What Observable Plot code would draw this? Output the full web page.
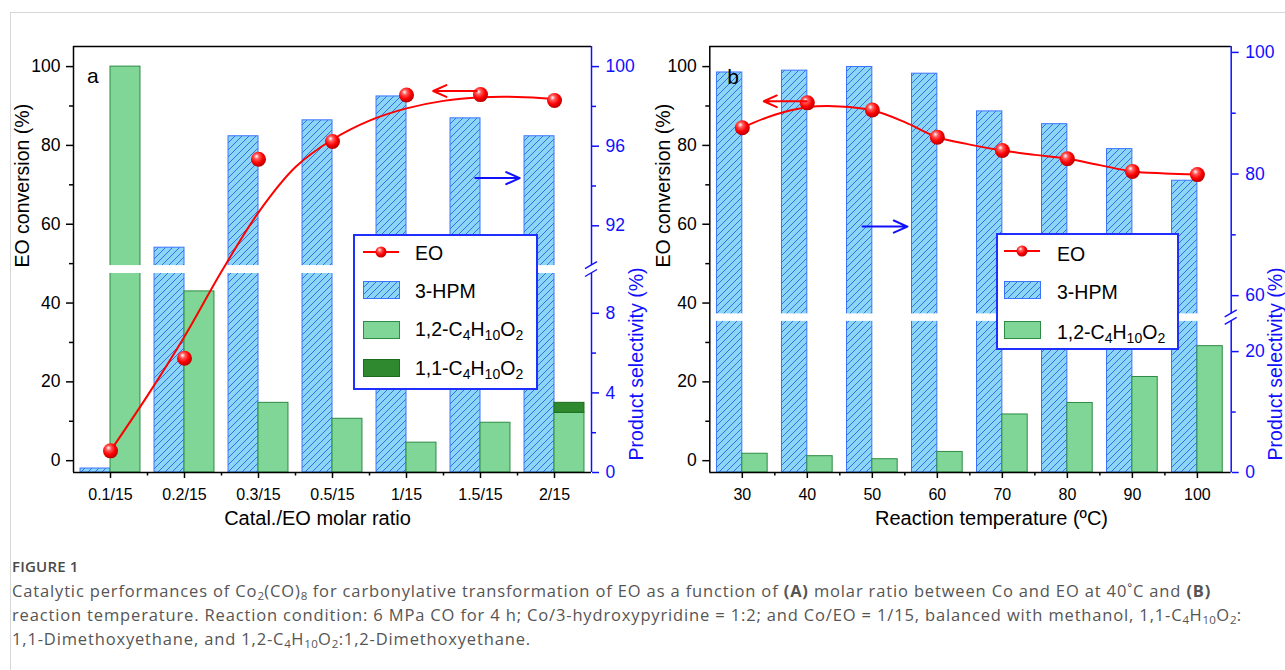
<!DOCTYPE html>
<html>
<head>
<meta charset="utf-8">
<script src="https://cdn.jsdelivr.net/npm/d3@7"></script>
<script src="https://cdn.jsdelivr.net/npm/@observablehq/plot@0.6"></script>
<style>
  html, body { margin: 0; padding: 0; background: #fff; }
  body { width: 1285px; height: 670px; overflow: hidden; position: relative; font-family: "Liberation Sans", Arial, sans-serif; }
  #card { position: absolute; left: 10px; top: 12px; width: 1300px; height: 700px; border-left: 1px solid #d6d6d6; border-top: 1px solid #d6d6d6; }
  .panel { position: absolute; top: 0; }
  .legend { position: absolute; box-sizing: border-box; border: 2px solid #1f2fff; background: #fff; }
  .legend .sw { position: absolute; }
  .legend .lt { position: absolute; font-size: 19.5px; line-height: 24px; white-space: nowrap; color: #000; }
  .legend sub { font-size: 0.72em; vertical-align: -0.28em; line-height: 0; }
  #caption { position: absolute; left: 12px; top: 554px; width: 1270px; font-family: "Open Sans", "Noto Sans", sans-serif; color: #555; white-space: nowrap; }
  #caption .fig { font-size: 15px; font-weight: 600; color: #4a4a4a; letter-spacing: 0.2px; line-height: 24px; }
  #caption .txt { font-size: 16.5px; line-height: 24px; letter-spacing: 0.85px; margin-top: 1px; }
  #caption sub { font-size: 0.7em; vertical-align: -0.25em; line-height: 0; letter-spacing: 0.3px; }
</style>
</head>
<body>
<div id="card"></div>
<div id="pa" class="panel" style="left:0px"></div>
<div id="pb" class="panel" style="left:645px"></div>

<div class="legend" style="left:353px;top:234px;width:185px;height:156px">
  <svg class="sw" style="left:8px;top:6px" width="38" height="20"><line x1="0" y1="10" x2="36" y2="10" stroke="#ff0000" stroke-width="2"/><circle cx="18" cy="10" r="5.5" fill="url(#ballL)"/></svg>
  <div class="lt" style="left:60px;top:5px">EO</div>
  <svg class="sw" style="left:8px;top:45px" width="38" height="19"><rect x="0.5" y="0.5" width="36" height="17" fill="url(#hatchL)" stroke="#3b73ff"/></svg>
  <div class="lt" style="left:60px;top:43px">3-HPM</div>
  <svg class="sw" style="left:8px;top:85px" width="38" height="19"><rect x="0.5" y="0.5" width="36" height="17" fill="#7fd696" stroke="#2e8b45"/></svg>
  <div class="lt" style="left:60px;top:81px">1,2-C<sub>4</sub>H<sub>10</sub>O<sub>2</sub></div>
  <svg class="sw" style="left:8px;top:123px" width="38" height="19"><rect x="0.5" y="0.5" width="36" height="17" fill="#2f8a2f" stroke="#1d6b1d"/></svg>
  <div class="lt" style="left:60px;top:120px">1,1-C<sub>4</sub>H<sub>10</sub>O<sub>2</sub></div>
</div>

<div class="legend" style="left:996px;top:233px;width:183px;height:117px">
  <svg class="sw" style="left:6px;top:6px" width="38" height="20"><line x1="0" y1="10" x2="36" y2="10" stroke="#ff0000" stroke-width="2"/><circle cx="18" cy="10" r="5.5" fill="url(#ballL)"/></svg>
  <div class="lt" style="left:59px;top:7px">EO</div>
  <svg class="sw" style="left:6px;top:46px" width="38" height="19"><rect x="0.5" y="0.5" width="36" height="17" fill="url(#hatchL)" stroke="#3b73ff"/></svg>
  <div class="lt" style="left:59px;top:45px">3-HPM</div>
  <svg class="sw" style="left:6px;top:86px" width="38" height="19"><rect x="0.5" y="0.5" width="36" height="17" fill="#7fd696" stroke="#2e8b45"/></svg>
  <div class="lt" style="left:59px;top:85px">1,2-C<sub>4</sub>H<sub>10</sub>O<sub>2</sub></div>
</div>

<svg width="0" height="0" style="position:absolute">
  <defs>
    <pattern id="hatchL" patternUnits="userSpaceOnUse" width="7" height="7">
      <rect width="7" height="7" fill="#8bd5f6"/>
      <path d="M-1,1 l2,-2 M0,7 l7,-7 M6,8 l2,-2" stroke="#2d62e6" stroke-width="0.9"/>
    </pattern>
    <radialGradient id="ballL" cx="0.42" cy="0.38" r="0.62" fx="0.36" fy="0.3">
      <stop offset="0" stop-color="#ffffff"/>
      <stop offset="0.28" stop-color="#ff5a5a"/>
      <stop offset="0.65" stop-color="#ff0000"/>
      <stop offset="1" stop-color="#b80000"/>
    </radialGradient>
  </defs>
</svg>

<div id="caption">
  <div class="fig">FIGURE 1</div>
  <div class="txt">Catalytic performances of Co<sub>2</sub>(CO)<sub>8</sub> for carbonylative transformation of EO as a function of <b>(A)</b> molar ratio between Co and EO at 40˚C and <b>(B)</b><br>reaction temperature. Reaction condition: 6 MPa CO for 4 h; Co/3-hydroxypyridine = 1:2; and Co/EO = 1/15, balanced with methanol, 1,1-C<sub>4</sub>H<sub>10</sub>O<sub>2</sub>:<br>1,1-Dimethoxyethane, and 1,2-C<sub>4</sub>H<sub>10</sub>O<sub>2</sub>:1,2-Dimethoxyethane.</div>
</div>

<script>
// ---------------- data ----------------
// Panel a: catalyst / EO molar ratio
const ratioLabels = ["0.1/15", "0.2/15", "0.3/15", "0.5/15", "1/15", "1.5/15", "2/15"];
const eoConvA     = [2.5, 26.0, 76.5, 81.0, 92.8, 92.9, 91.4];     // EO conversion (%)
const hpmSelA     = [0.2, 90.9, 96.5, 97.3, 98.5, 97.4, 96.5];     // 3-HPM selectivity (%)
const dme12SelA   = [100, 9.1, 3.5, 2.7, 1.5, 2.5, 3.0];           // 1,2-C4H10O2 selectivity (%)
const dme11SelA   = [0, 0, 0, 0, 0, 0, 0.5];                       // 1,1-C4H10O2 selectivity (%)
// fitted EO curve of panel a, read at half-category steps
const fitPosA     = [0, 0.5, 1, 1.5, 2, 2.5, 3, 3.5, 4, 4.5, 5, 5.5, 6];
const eoFitA      = [2.5, 16.5, 31.5, 48, 63, 74.5, 81.5, 86.3, 89.4, 91.3, 92.2, 92.3, 91.8];

// Panel b: reaction temperature
const temps       = [30, 40, 50, 60, 70, 80, 90, 100];
const eoConvB     = [84.5, 90.8, 89.0, 82.1, 78.7, 76.6, 73.4, 72.6];
const hpmSelB     = [96.7, 97.0, 97.6, 96.5, 90.3, 88.2, 84.1, 78.9];
const dme12SelB   = [3.1, 2.7, 2.2, 3.4, 9.6, 11.5, 15.8, 20.9];
const fitTempsB   = [30, 35, 40, 45, 50, 55, 60, 65, 70, 75, 80, 85, 90, 95, 100];
const eoFitB      = [84.5, 87.8, 89.7, 89.9, 88.9, 85.9, 82.1, 80.2, 78.7, 77.6, 76.6, 75.0, 73.4, 72.9, 72.6];

// tick values
const convTicks   = [0, 20, 40, 60, 80, 100];
const convMinor   = [10, 30, 50, 70, 90];
const selTicksA   = [0, 4, 8, 92, 96, 100];
const selMinorA   = [2, 6, 94, 98];
const selTicksB   = [0, 20, 60, 80, 100];
const selMinorB   = [10, 70, 90];
const tempMinor   = [35, 45, 55, 65, 75, 85, 95];

// broken right axes: [lower segment max, upper segment min]
const breakA = [10, 90];
const breakB = [25, 57];

// annotation arrows (data units)
const arrowsA = [
  {x1: 4.95, y1: 93.8, x2: 4.36, y2: 93.8},
  {x1: 4.93, y1: 71.7, x2: 5.53, y2: 71.7}
];
const arrowsB = [
  {x1: 39.9, y1: 91.2, x2: 33.3, y2: 91.2},
  {x1: 48.5, y1: 59.4, x2: 55.4, y2: 59.4}
];

// ---------------- styling / geometry ----------------
const RED = "#ff0000", BLUE = "#1010ff";
const H = 540, MT = 46, MB = 68;
const Y_DOMAIN = [-3.0, 105.1];
const Y0 = Y_DOMAIN[0];
const FONT = "'Liberation Sans', Arial, sans-serif";

// right (selectivity) axis -> left axis units, piecewise for the broken axis
const convA = v => v <= breakA[0]
  ? d3.scaleLinear([0, breakA[0]], [Y0, 47.5])(v)
  : d3.scaleLinear([breakA[1], 100], [49.5, 100])(v);
const convB = v => v <= breakB[0]
  ? d3.scaleLinear([0, breakB[0]], [Y0, 35.35])(v)
  : d3.scaleLinear([breakB[1], 100], [37.25, 103.6])(v);

function defsMark(id) {
  return () => {
    const g = d3.create("svg:g");
    const defs = g.append("defs");
    const p = defs.append("pattern").attr("id", "hatch" + id).attr("patternUnits", "userSpaceOnUse")
      .attr("width", 7).attr("height", 7);
    p.append("rect").attr("width", 7).attr("height", 7).attr("fill", "#8bd5f6");
    p.append("path").attr("d", "M-1,1 l2,-2 M0,7 l7,-7 M6,8 l2,-2").attr("stroke", "#2d62e6").attr("stroke-width", 0.9);
    const r = defs.append("radialGradient").attr("id", "ball" + id)
      .attr("cx", 0.42).attr("cy", 0.38).attr("r", 0.62).attr("fx", 0.36).attr("fy", 0.3);
    [[0, "#ffffff"], [0.28, "#ff5a5a"], [0.65, "#ff0000"], [1, "#b80000"]].forEach(([o, c]) =>
      r.append("stop").attr("offset", o).attr("stop-color", c));
    return g.node();
  };
}

function breakMarks(xVal, uLow, uHigh) {
  return (index, {x, y}) => {
    const g = d3.create("svg:g").attr("stroke", BLUE).attr("stroke-width", 1.4).attr("fill", "none");
    const X = x(xVal);
    [y(uLow), y(uHigh)].forEach(py => {
      g.append("line").attr("x1", X - 6).attr("y1", py + 3.5).attr("x2", X + 6).attr("y2", py - 3.5);
    });
    return g.node();
  };
}

function commonAxes(opts) {
  const {xMin, xMax, conv, selTicks, selMinor, gap} = opts;
  const labelMap = new Map(selTicks.map(v => [conv(v), String(v)]));
  return [
    Plot.ruleX([xMin], {stroke: "black", strokeWidth: 1.5}),
    Plot.ruleY([Y_DOMAIN[0]], {stroke: "black", strokeWidth: 1.5}),
    Plot.ruleY([Y_DOMAIN[1]], {stroke: "black", strokeWidth: 1.5}),
    Plot.ruleX([xMax], {y1: Y_DOMAIN[0], y2: gap[0], stroke: BLUE, strokeWidth: 1.5}),
    Plot.ruleX([xMax], {y1: gap[1], y2: Y_DOMAIN[1], stroke: BLUE, strokeWidth: 1.5}),
    breakMarks(xMax, gap[0], gap[1]),
    Plot.axisY(convTicks, {anchor: "left", tickSize: 7, tickPadding: 6, strokeWidth: 1.5, fontSize: 17.5, label: null, color: "black"}),
    Plot.axisY(convMinor, {anchor: "left", tickSize: 4, strokeWidth: 1.5, tickFormat: () => "", label: null, color: "black"}),
    Plot.axisY(selTicks.map(conv), {anchor: "right", tickSize: 7, tickPadding: 7, strokeWidth: 1.5, fontSize: 17.5, label: null, color: BLUE, tickFormat: u => labelMap.get(u)}),
    Plot.axisY(selMinor.map(conv), {anchor: "right", tickSize: 4, strokeWidth: 1.5, tickFormat: () => "", label: null, color: BLUE})
  ];
}

// ---------------- panel a ----------------
const idxA = d3.range(ratioLabels.length);
const BWA = 0.405;
const plotA = Plot.plot({
  width: 652, height: H, marginLeft: 73, marginRight: 61, marginTop: MT, marginBottom: MB,
  x: {type: "linear", domain: [-0.5, ratioLabels.length - 0.5]},
  y: {domain: Y_DOMAIN},
  style: {background: "none", overflow: "visible", fontFamily: FONT, fontSize: "17px", color: "black"},
  marks: [
    defsMark("A"),
    Plot.rect(idxA, {x1: i => i - BWA, x2: i => i, y1: Y0, y2: i => convA(hpmSelA[i]), fill: "url(#hatchA)", stroke: "#3b73ff", strokeWidth: 1}),
    Plot.rect(idxA, {x1: i => i, x2: i => i + BWA, y1: Y0, y2: i => convA(dme12SelA[i]), fill: "#7fd696", stroke: "#2e8b45", strokeWidth: 1}),
    Plot.rect(idxA.filter(i => dme11SelA[i] > 0), {x1: i => i, x2: i => i + BWA, y1: i => convA(dme12SelA[i]), y2: i => convA(dme12SelA[i] + dme11SelA[i]), fill: "#2f8a2f", stroke: "#1d6b1d", strokeWidth: 1}),
    Plot.rect([0], {x1: -0.5, x2: ratioLabels.length - 0.5, y1: convA(breakA[0]), y2: convA(breakA[1]), fill: "white"}),
    Plot.line(fitPosA.map((p, i) => ({p, v: eoFitA[i]})), {x: "p", y: "v", stroke: RED, strokeWidth: 2, curve: "catmull-rom"}),
    Plot.dot(idxA, {x: i => i, y: i => eoConvA[i], r: 7.5, fill: "url(#ballA)", stroke: "none"}),
    Plot.arrow(arrowsA.slice(0, 1), {x1: "x1", y1: "y1", x2: "x2", y2: "y2", stroke: RED, strokeWidth: 2, headLength: 13, headAngle: 48}),
    Plot.arrow(arrowsA.slice(1), {x1: "x1", y1: "y1", x2: "x2", y2: "y2", stroke: BLUE, strokeWidth: 2, headLength: 13, headAngle: 48}),
    Plot.axisX(idxA, {anchor: "bottom", tickSize: 6, tickPadding: 10, strokeWidth: 1.5, fontSize: 16, label: null, tickFormat: i => ratioLabels[i]}),
    Plot.axisX(idxA.slice(1).map(i => i - 0.5), {anchor: "bottom", tickSize: 3.5, strokeWidth: 1.5, label: null, tickFormat: () => ""}),
    ...commonAxes({xMin: -0.5, xMax: ratioLabels.length - 0.5, conv: convA, selTicks: selTicksA, selMinor: selMinorA, gap: [convA(breakA[0]), convA(breakA[1])]}),
    Plot.text(["a"], {frameAnchor: "top-left", textAnchor: "start", dx: 13.5, dy: 21.5, fontSize: 21, text: d => d}),
    Plot.text(["EO conversion (%)"], {frameAnchor: "left", dx: -51, dy: 8, rotate: -90, fontSize: 19.5, text: d => d}),
    Plot.text(["Product selectivity (%)"], {frameAnchor: "right", dx: 45, dy: 8, rotate: -90, fontSize: 19.5, fill: BLUE, text: d => d}),
    Plot.text(["Catal./EO molar ratio"], {frameAnchor: "bottom", dx: -15, dy: 52, fontSize: 20, text: d => d})
  ]
});
document.getElementById("pa").append(plotA);

// ---------------- panel b ----------------
const BWB = 3.9;
const X_B = [25, 105.2];
const plotB = Plot.plot({
  width: 640, height: H, marginLeft: 64.3, marginRight: 54.3, marginTop: MT, marginBottom: MB,
  x: {type: "linear", domain: X_B},
  y: {domain: Y_DOMAIN},
  style: {background: "none", overflow: "visible", fontFamily: FONT, fontSize: "17px", color: "black"},
  marks: [
    defsMark("B"),
    Plot.rect(temps, {x1: t => t - BWB, x2: t => t, y1: Y0, y2: (t, i) => convB(hpmSelB[i]), fill: "url(#hatchB)", stroke: "#3b73ff", strokeWidth: 1}),
    Plot.rect(temps, {x1: t => t, x2: t => t + BWB, y1: Y0, y2: (t, i) => convB(dme12SelB[i]), fill: "#7fd696", stroke: "#2e8b45", strokeWidth: 1}),
    Plot.rect([0], {x1: X_B[0], x2: X_B[1], y1: convB(breakB[0]), y2: convB(breakB[1]), fill: "white"}),
    Plot.line(fitTempsB.map((t, i) => ({t, v: eoFitB[i]})), {x: "t", y: "v", stroke: RED, strokeWidth: 2, curve: "catmull-rom"}),
    Plot.dot(temps, {x: t => t, y: (t, i) => eoConvB[i], r: 7.5, fill: "url(#ballB)", stroke: "none"}),
    Plot.arrow(arrowsB.slice(0, 1), {x1: "x1", y1: "y1", x2: "x2", y2: "y2", stroke: RED, strokeWidth: 2, headLength: 13, headAngle: 48}),
    Plot.arrow(arrowsB.slice(1), {x1: "x1", y1: "y1", x2: "x2", y2: "y2", stroke: BLUE, strokeWidth: 2, headLength: 13, headAngle: 48}),
    Plot.axisX(temps, {anchor: "bottom", tickSize: 6, tickPadding: 10, strokeWidth: 1.5, fontSize: 16, label: null, tickFormat: d => String(d)}),
    Plot.axisX(tempMinor, {anchor: "bottom", tickSize: 3.5, strokeWidth: 1.5, label: null, tickFormat: () => ""}),
    ...commonAxes({xMin: X_B[0], xMax: X_B[1], conv: convB, selTicks: selTicksB, selMinor: selMinorB, gap: [convB(breakB[0]), convB(breakB[1])]}),
    Plot.text(["b"], {frameAnchor: "top-left", textAnchor: "start", dx: 17.5, dy: 23, fontSize: 21, text: d => d}),
    Plot.text(["EO conversion (%)"], {frameAnchor: "left", dx: -46, dy: 8, rotate: -90, fontSize: 19.5, text: d => d}),
    Plot.text(["Product selectivity (%)"], {frameAnchor: "right", dx: 44.5, dy: 8, rotate: -90, fontSize: 19.5, fill: BLUE, text: d => d}),
    Plot.text(["Reaction temperature (ºC)"], {frameAnchor: "bottom", dx: 21, dy: 52, fontSize: 20, text: d => d})
  ]
});
document.getElementById("pb").append(plotB);
</script>
</body>
</html>
